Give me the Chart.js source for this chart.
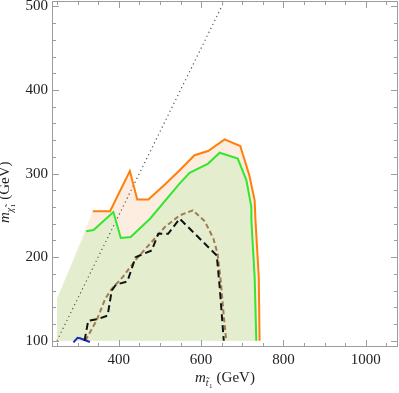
<!DOCTYPE html>
<html>
<head>
<meta charset="utf-8">
<title>Stop / neutralino exclusion</title>
<script src="https://cdn.jsdelivr.net/npm/chart.js@4/dist/chart.umd.min.js"></script>
<style>
  html, body { margin: 0; padding: 0; background: #fff; }
  #wrap { width: 399px; height: 393px; }
</style>
</head>
<body>
<div id="wrap"><canvas id="limitChart" width="399" height="393"></canvas></div>
<script>
// contours: stop mass (GeV) vs neutralino mass (GeV)
const edgeStop = [250];
const edgeChi = [150];

const orangeStop = [337, 379, 427, 445, 472, 512, 546, 584, 617, 657, 695, 717, 730, 732, 740, 742];
const orangeChi  = [255, 255, 303, 269, 269, 287, 303, 322, 327, 341, 333, 298, 268, 244, 176, 100];

const greenStop = [321, 339, 387, 405, 429, 476, 546, 572, 617, 645, 689, 710, 722, 722, 730, 734];
const greenChi  = [231, 232.5, 254, 223, 224, 246, 287, 301, 312, 325, 318, 292, 260, 244, 176, 100];

const brownStop = [319, 347, 367, 383, 411, 443, 476, 512, 548, 580, 609, 630, 640, 648, 655, 661];
const brownChi  = [100, 125, 150, 162, 177, 198, 216, 236, 250, 256, 243, 222, 204, 170, 130, 100];

const blackStop = [317, 326, 350, 373, 383, 393, 421, 441, 480, 496, 520, 548, 638, 645, 655];
const blackChi  = [100, 124, 126, 130, 160, 167, 171, 200, 208, 228, 228, 246, 202, 165, 100];

const blueStop = [290, 300, 306, 314, 330];
const blueChi  = [98, 103.5, 103, 101.5, 98.5];

const diagStop = [250, 660];
const diagChi  = [100, 510];

const xLabels = [400, 600, 800, 1000];
const yLabels = [100, 200, 300, 400, 500];

const pts = (xs, ys) => xs.map((x, i) => ({ x: x, y: ys[i] }));

const serif = "'Liberation Serif', 'Times New Roman', serif";

// Mathematica-style frame with inward ticks on every side
const frameTicks = {
    id: 'frameTicks',
    afterDatasetsDraw(chart) {
        const { ctx, chartArea: a, scales: { x, y } } = chart;
        ctx.save();
        ctx.strokeStyle = '#9c9c9c';
        ctx.lineWidth = 1;
        ctx.strokeRect(a.left + 0.5, a.top + 0.5, a.right - a.left - 1, a.bottom - a.top - 1);
        ctx.beginPath();
        for (let v = 250; v <= 1050; v += 50) {
            const px = Math.round(x.getPixelForValue(v)) + 0.5;
            const len = v % 200 === 0 ? 7 : 4;
            ctx.moveTo(px, a.bottom); ctx.lineTo(px, a.bottom - len);
            ctx.moveTo(px, a.top); ctx.lineTo(px, a.top + len);
        }
        for (let v = 100; v <= 500; v += 20) {
            const py = Math.round(y.getPixelForValue(v)) + 0.5;
            const len = v % 100 === 0 ? 7 : 4;
            ctx.moveTo(a.left, py); ctx.lineTo(a.left + len, py);
            ctx.moveTo(a.right, py); ctx.lineTo(a.right - len, py);
        }
        ctx.stroke();
        ctx.restore();
    }
};

// axis titles with subscripts
const axisTitles = {
    id: 'axisTitles',
    afterDraw(chart) {
        const ctx = chart.ctx;
        ctx.save();
        ctx.fillStyle = '#222';
        ctx.textBaseline = 'alphabetic';

        // x title
        let cx = 195;
        ctx.font = 'italic 15px ' + serif;
        ctx.fillText('m', cx, 382);
        cx += ctx.measureText('m').width;
        ctx.font = 'italic 10px ' + serif;
        ctx.fillText('t\u0303', cx, 386);
        cx += ctx.measureText('t').width + 0.5;
        ctx.font = '7px ' + serif;
        ctx.fillText('1', cx, 388);
        cx += ctx.measureText('1').width + 4;
        ctx.font = '15px ' + serif;
        ctx.fillText('(GeV)', cx, 382);

        // y title, rotated
        ctx.translate(9, 223);
        ctx.rotate(-Math.PI / 2);
        let cy = 0;
        ctx.font = 'italic 15px ' + serif;
        ctx.fillText('m', cy, 0);
        cy += ctx.measureText('m').width;
        ctx.font = 'italic 10px ' + serif;
        ctx.fillText('\u03C7\u0303', cy, 4);
        cy += ctx.measureText('\u03C7').width + 0.5;
        ctx.font = '7px ' + serif;
        ctx.fillText('1', cy, 6);
        cy += ctx.measureText('1').width + 4;
        ctx.font = '15px ' + serif;
        ctx.fillText('(GeV)', cy, 0);
        ctx.restore();
    }
};

new Chart(document.getElementById('limitChart'), {
    type: 'line',
    data: {
        datasets: [
            {
                data: pts(edgeStop.concat(orangeStop), edgeChi.concat(orangeChi)),
                borderWidth: 0,
                backgroundColor: 'rgb(253, 237, 224)',
                fill: { value: 100 },
                order: 6
            },
            {
                data: pts(edgeStop.concat(greenStop), edgeChi.concat(greenChi)),
                borderWidth: 0,
                backgroundColor: 'rgb(228, 238, 206)',
                fill: { value: 100 },
                order: 5
            },
            {
                data: pts(diagStop, diagChi),
                borderColor: '#555',
                borderWidth: 1.2,
                borderDash: [1.2, 3.2],
                fill: false,
                order: 4
            },
            {
                data: pts(orangeStop, orangeChi),
                borderColor: '#ff7f0a',
                borderWidth: 2,
                fill: false,
                order: 3
            },
            {
                data: pts(greenStop, greenChi),
                borderColor: '#33e62e',
                borderWidth: 2,
                fill: false,
                order: 2
            },
            {
                data: pts(brownStop, brownChi),
                borderColor: '#a27a52',
                borderWidth: 2,
                borderDash: [5, 3],
                fill: false,
                order: 1
            },
            {
                data: pts(blackStop, blackChi),
                borderColor: '#111',
                borderWidth: 2,
                borderDash: [7, 4],
                fill: false,
                order: 0
            },
            {
                data: pts(blueStop, blueChi),
                borderColor: '#1c2cc0',
                borderWidth: 2,
                fill: false,
                order: 0
            }
        ]
    },
    options: {
        responsive: false,
        animation: false,
        devicePixelRatio: 1,
        layout: { padding: { top: 1, right: 1, left: 0, bottom: 0 } },
        elements: { point: { radius: 0 }, line: { tension: 0 } },
        plugins: { legend: { display: false }, tooltip: { enabled: false } },
        scales: {
            x: {
                type: 'linear',
                min: 238,
                max: 1078,
                grid: { display: false, drawTicks: false },
                border: { display: false },
                afterBuildTicks: (s) => { s.ticks = xLabels.map(v => ({ value: v })); },
                afterFit: (s) => { s.height = 46; s.paddingLeft = 0; s.paddingRight = 0; },
                ticks: {
                    padding: 4,
                    maxRotation: 0,
                    color: '#222',
                    font: { family: serif, size: 15 },
                    callback: (v) => String(v)
                }
            },
            y: {
                type: 'linear',
                min: 92.5,
                max: 506.5,
                grid: { display: false, drawTicks: false },
                border: { display: false },
                afterBuildTicks: (s) => { s.ticks = yLabels.map(v => ({ value: v })); },
                afterFit: (s) => { s.width = 52; s.paddingTop = 0; s.paddingBottom = 0; },
                ticks: {
                    padding: 4,
                    color: '#222',
                    font: { family: serif, size: 15 },
                    callback: (v) => String(v)
                }
            }
        }
    },
    plugins: [frameTicks, axisTitles]
});
</script>
</body>
</html>
